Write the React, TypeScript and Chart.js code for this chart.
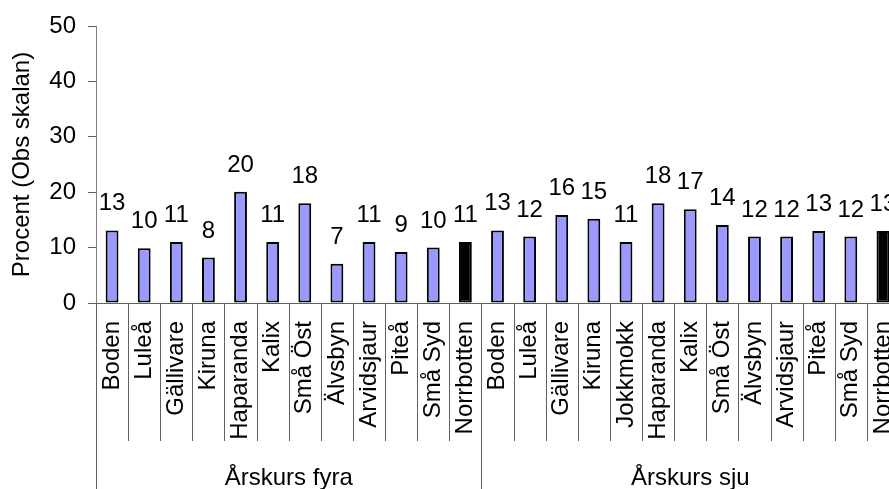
import React, { useEffect, useRef } from 'react';
import { Chart, registerables } from 'chart.js';

Chart.register(...registerables);

const FONT = '"Liberation Sans", Arial, Helvetica, sans-serif';

const yAxisTitle = 'Procent (Obs skalan)';
const groupNames = ['Årskurs fyra', 'Årskurs sju'];
const fyraLabels = ['Boden', 'Luleå', 'Gällivare', 'Kiruna', 'Haparanda', 'Kalix', 'Små Öst', 'Älvsbyn', 'Arvidsjaur', 'Piteå', 'Små Syd', 'Norrbotten'];
const fyraValues = [13.1, 9.9, 11, 8.2, 20.1, 11, 18, 7.1, 11, 9.2, 10, 11];
const sjuLabels = ['Boden', 'Luleå', 'Gällivare', 'Kiruna', 'Jokkmokk', 'Haparanda', 'Kalix', 'Små Öst', 'Älvsbyn', 'Arvidsjaur', 'Piteå', 'Små Syd', 'Norrbotten'];
const sjuValues = [13.1, 12, 15.9, 15.2, 11, 18, 16.9, 14.1, 12, 12, 13, 12, 13];
const yTicks = [0, 10, 20, 30, 40, 50];
const totalLabel = 'Norrbotten';

const labelPlugin = {
  id: 'labelsAndGroups',
  afterDraw(chart: any) {
    const ctx = chart.ctx;
    const xs = chart.scales.x;
    const ca = chart.chartArea;
    const n = chart.data.labels.length;
    const values = chart.data.datasets[0].data as number[];
    const meta = chart.getDatasetMeta(0);
    ctx.save();
    ctx.fillStyle = '#000';
    ctx.font = `24px ${FONT}`;
    ctx.textAlign = 'center';
    ctx.textBaseline = 'alphabetic';
    meta.data.forEach((bar: any, i: number) => {
      ctx.fillText(String(Math.round(values[i])), bar.x, bar.y - 20);
    });
    const H = chart.height;
    const boundary = fyraLabels.length;
    ctx.strokeStyle = '#606060';
    ctx.lineWidth = 1;
    ctx.beginPath();
    const lx = Math.round(ca.left) + 0.5;
    ctx.moveTo(lx, ca.bottom);
    ctx.lineTo(lx, H);
    for (let i = 1; i < n; i++) {
      const px = Math.round((xs.getPixelForValue(i - 1) + xs.getPixelForValue(i)) / 2) + 0.5;
      ctx.moveTo(px, ca.bottom);
      ctx.lineTo(px, i === boundary ? H : ca.bottom + 138);
    }
    ctx.stroke();
    const bx = (xs.getPixelForValue(boundary - 1) + xs.getPixelForValue(boundary)) / 2;
    const rx = xs.getPixelForValue(n - 1) + (xs.getPixelForValue(n - 1) - xs.getPixelForValue(n - 2)) / 2;
    ctx.fillText(groupNames[0], (ca.left + bx) / 2, 485);
    ctx.fillText(groupNames[1], (bx + rx) / 2, 485);
    ctx.restore();
  },
};

export default function App() {
  const ref = useRef<HTMLCanvasElement>(null);
  useEffect(() => {
    const labels = [...fyraLabels, ...sjuLabels];
    const values = [...fyraValues, ...sjuValues];
    const chart = new Chart(ref.current as HTMLCanvasElement, {
      type: 'bar',
      data: {
        labels,
        datasets: [
          {
            data: values,
            backgroundColor: labels.map((l) => (l === totalLabel ? '#000000' : '#9999ff')),
            borderColor: '#000000',
            borderWidth: 2,
            borderSkipped: false,
            barPercentage: 0.4,
            categoryPercentage: 1,
          },
        ],
      },
      options: {
        animation: false,
        responsive: true,
        maintainAspectRatio: false,
        layout: { padding: { top: 26, right: 6, left: 0, bottom: 0 } },
        plugins: { legend: { display: false }, tooltip: { enabled: false } },
        scales: {
          x: {
            grid: { display: false, drawTicks: false },
            border: { display: true, color: '#606060', width: 1 },
            ticks: {
              minRotation: 90,
              maxRotation: 90,
              autoSkip: false,
              padding: 18,
              color: '#000',
              font: { size: 24, family: FONT },
            },
            afterFit: (s: any) => {
              s.height = 186;
              s.paddingLeft = 0;
              s.paddingRight = 0;
            },
          },
          y: {
            min: 0,
            max: 50,
            afterBuildTicks: (s: any) => {
              s.ticks = yTicks.map((v) => ({ value: v }));
            },
            ticks: { color: '#000', padding: 12, font: { size: 24, family: FONT } },
            grid: { drawOnChartArea: false, drawTicks: true, tickLength: 8, color: '#606060' },
            border: { display: true, color: '#7f7f7f', width: 1 },
            title: {
              display: true,
              text: yAxisTitle,
              color: '#000',
              font: { size: 24, family: FONT },
              padding: { top: 8, bottom: 0 },
            },
            afterFit: (s: any) => {
              s.width = 96;
              s.paddingTop = 0;
              s.paddingBottom = 0;
            },
          },
        },
      },
      plugins: [labelPlugin],
    });
    return () => chart.destroy();
  }, []);
  return (
    <div style={{ position: 'absolute', left: 0, top: 0, width: 889, height: 489, overflow: 'hidden' }}>
      <div style={{ position: 'relative', width: 905, height: 489 }}>
        <canvas ref={ref} />
      </div>
    </div>
  );
}
